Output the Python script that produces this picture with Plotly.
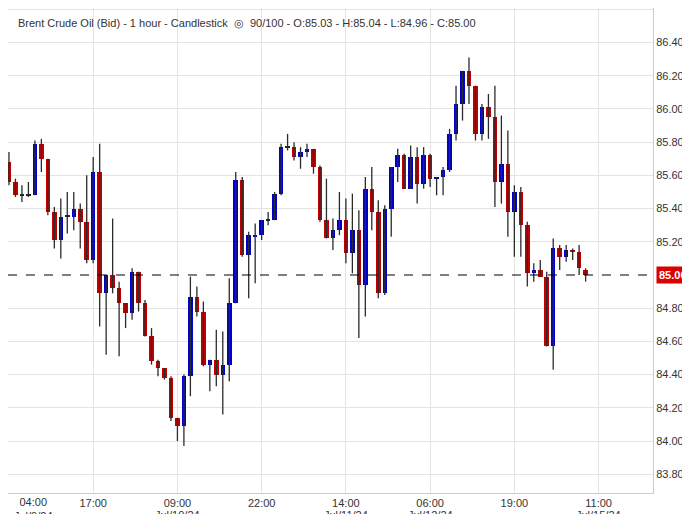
import plotly.graph_objects as go

opens = [85.68,85.56,85.48,85.48,85.48,85.79,85.70,85.38,85.21,85.35,85.35,85.40,85.32,85.09,85.62,84.89,85.00,84.92,84.83,84.77,
         85.02,84.83,84.63,84.48,84.44,84.38,84.14,84.09,84.39,84.87,84.78,84.46,84.49,84.40,84.46,84.83,85.57,85.12,85.23,85.24,
         85.33,85.33,85.49,85.77,85.77,85.71,85.74,85.76,85.65,85.33,85.22,85.27,85.33,85.13,85.27,84.94,85.52,85.38,84.89,85.40,
         85.65,85.72,85.52,85.71,85.55,85.72,85.58,85.59,85.63,85.85,86.03,86.23,86.14,85.85,86.01,85.95,85.56,85.67,85.38,85.50,
         85.30,85.01,85.03,84.99,84.57,85.16,85.11,85.15,85.14,85.03]
closes = [85.56,85.48,85.48,85.48,85.79,85.70,85.38,85.21,85.35,85.35,85.40,85.32,85.09,85.62,84.89,85.00,84.92,84.83,84.77,85.02,
          84.83,84.63,84.48,84.44,84.38,84.14,84.09,84.39,84.87,84.78,84.46,84.49,84.40,84.46,84.83,85.57,85.12,85.24,85.24,85.33,
          85.33,85.49,85.77,85.77,85.71,85.74,85.76,85.65,85.33,85.22,85.27,85.33,85.13,85.27,84.94,85.52,85.38,84.89,85.40,85.65,
          85.72,85.52,85.71,85.55,85.72,85.58,85.59,85.63,85.85,86.03,86.23,86.14,85.85,86.01,85.95,85.56,85.67,85.38,85.50,85.30,
          85.01,85.03,84.99,84.57,85.16,85.11,85.15,85.14,85.04,85.00]
highs = [85.74,85.58,85.54,85.56,85.81,85.82,85.70,85.41,85.46,85.50,85.50,85.43,85.60,85.71,85.79,85.00,85.34,84.96,84.83,85.04,
         85.02,84.85,84.68,84.49,84.44,84.39,84.14,84.40,84.99,84.93,84.84,84.49,84.67,84.66,84.98,85.62,85.59,85.26,85.31,85.33,
         85.38,85.50,85.79,85.85,85.80,85.77,85.79,85.76,85.66,85.58,85.34,85.50,85.46,85.49,85.39,85.59,85.65,85.45,85.42,85.65,
         85.76,85.73,85.78,85.77,85.77,85.73,85.59,85.65,85.88,86.14,86.23,86.31,86.14,86.03,86.09,86.14,85.96,85.87,85.54,85.53,
         85.32,85.07,85.09,85.02,85.22,85.18,85.18,85.16,85.18,85.04]
lows = [85.54,85.47,85.44,85.47,85.48,85.62,85.36,85.16,85.10,85.25,85.27,85.16,85.07,85.07,84.69,84.52,84.89,84.51,84.68,84.73,
        84.78,84.63,84.46,84.39,84.37,84.12,84.00,83.97,84.27,84.75,84.45,84.30,84.33,84.16,84.36,84.83,85.11,84.86,84.95,85.21,
        85.30,85.33,85.48,85.75,85.69,85.64,85.71,85.61,85.32,85.22,85.15,85.24,85.07,85.01,84.62,84.75,85.27,84.86,84.88,85.23,
        85.56,85.52,85.52,85.43,85.52,85.53,85.48,85.48,85.62,85.81,85.93,86.03,85.81,85.81,85.82,85.41,85.43,85.23,85.11,85.11,
        84.93,84.96,84.99,84.57,84.43,85.03,85.08,85.09,85.00,84.96]
tick_pos = [13, 26, 39, 52, 65, 78, 91]
tick_time = ["17:00", "09:00", "22:00", "14:00", "06:00", "19:00", "11:00"]
tick_date = ["", "Jul/10/24", "", "Jul/11/24", "Jul/12/24", "", "Jul/15/24"]
price_ticks = [83.6, 83.8, 84.0, 84.2, 84.4, 84.6, 84.8, 85.2, 85.4, 85.6, 85.8, 86.0, 86.2, 86.4, 86.6]
last_price = 85.00

x = list(range(len(opens)))
BLUE, RED, DARK = "#0000CC", "#C00000", "#222222"
colors = [BLUE if c > o else (RED if c < o else DARK) for o, c in zip(opens, closes)]
base = [min(o, c) for o, c in zip(opens, closes)]
hgt = [max(abs(c - o), 0.006) for o, c in zip(opens, closes)]

wx, wy = [], []
for i, h, l in zip(x, highs, lows):
    wx += [i, i, None]
    wy += [l, h, None]

fig = go.Figure()
fig.add_trace(go.Scatter(x=wx, y=wy, mode="lines", line=dict(color="#2b2b2b", width=1.3),
                         hoverinfo="skip", showlegend=False))
fig.add_trace(go.Bar(x=x, y=hgt, base=base, marker=dict(color=colors, line=dict(width=0)),
                     width=0.7, showlegend=False))
fig.add_hline(y=last_price, line=dict(color="black", width=1.2, dash="dash"))

fig.update_layout(
    width=690, height=514, margin=dict(l=0, r=45, t=0, b=29),
    plot_bgcolor="white", paper_bgcolor="white", bargap=0,
    font=dict(family="Liberation Sans, Arial", size=11, color="#333"),
    xaxis=dict(range=[-0.15, 99.4], tickvals=tick_pos, ticktext=tick_time, automargin=False,
               showgrid=True, gridcolor="#e3e3e3", zeroline=False, ticks="", ticklabelstandoff=0,
               showline=True, linecolor="#cccccc", mirror=True),
    yaxis=dict(range=[83.687, 86.608], side="right", tickvals=price_ticks, automargin=False,
               ticktext=[f"{v:.2f}" for v in price_ticks], showgrid=True,
               gridcolor="#e3e3e3", zeroline=False, ticks="",
               showline=True, linecolor="#cccccc", mirror=True),
)
for p, d in zip(tick_pos, tick_date):
    if d:
        fig.add_annotation(x=p, y=0, xref="x", yref="paper", yshift=-14, text=d,
                           showarrow=False, yanchor="top", font=dict(size=11, color="#333"))
fig.add_annotation(x=0, y=0, xref="x", yref="paper", yshift=-1, text="04:00<br>Jul/9/24",
                   showarrow=False, xanchor="left", yanchor="top", xshift=3,
                   font=dict(size=11, color="#333"))
fig.add_annotation(xref="paper", yref="paper", x=0.0, y=1, xshift=8, yshift=-7, yanchor="top",
                   xanchor="left", showarrow=False,
                   text="Brent Crude Oil (Bid) - 1 hour - Candlestick  \u25ce  90/100 - O:85.03 - H:85.04 - L:84.96 - C:85.00",
                   font=dict(size=11, color="#333"))
fig.add_annotation(xref="paper", yref="y", x=1, y=last_price, xanchor="left", xshift=3,
                   showarrow=False, text="<b>85.00</b>", bgcolor="#DD0000",
                   font=dict(size=11, color="white"), borderpad=2)
fig.write_html("out.html")
